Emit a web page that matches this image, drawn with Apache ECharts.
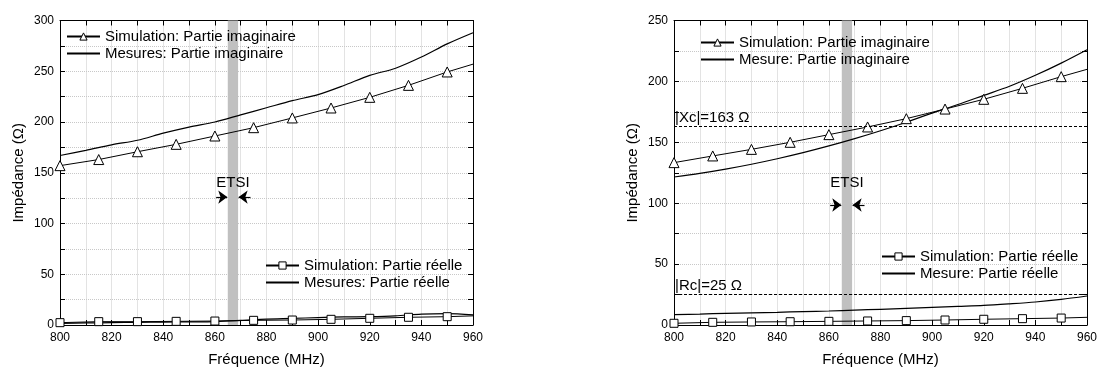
<!DOCTYPE html>
<html><head><meta charset="utf-8">
<script src="https://cdn.jsdelivr.net/npm/echarts@6/dist/echarts.min.js"></script>
<style>html,body{margin:0;padding:0;background:#fff}#c{width:1098px;height:367px}</style>
</head><body><div id="c"></div>
<script>
// Frequencies (MHz)
const freqMes = [800,810,820,830,840,850,860,870,880,890,900,910,920,930,940,950,960];
const freqSim = [800,815,830,845,860,875,890,905,920,935,950,960];
const xTicks = [800,820,840,860,880,900,920,940,960];
// Left chart
const leftSimImag = [157,163,170.7,178,186.2,194.4,204,213.8,224.3,236.1,249.3,257];
const leftMesImag = [167,172,177.5,182,189,195,200,207,214,221,227,236,246,253,264,277,288];
const leftSimReal = [2.3,3.3,3.3,3.6,3.9,4.6,4.9,5.6,6.6,7.6,8.2,9];
const leftMesReal = [1.6,2,2.3,2.6,2.9,3.1,3.4,4.5,5.8,6.5,7.3,8,8.2,9,10.8,11.3,10];
// Right chart
const rightSimImag = [133.3,138.8,144.2,150,156.3,162.6,169.4,177.3,185.3,194.3,203.9,209.9];
const rightMesImag = [121.5,124.5,128,132,136.5,141.5,147,153,159.5,166.5,174,181,188.5,196,205,215,226];
const rightSimReal = [1.4,2.2,2.5,2.7,3,3.3,3.6,4.1,4.7,5.2,5.7,6.3];
const rightMesReal = [8.5,9,9.6,10,10.4,11,11.5,12.2,12.9,13.7,14.5,15.3,16.1,17.4,18.9,21,23.8];
// ETSI band and reference values
const etsiBand = [865, 869];
const xcRef = 163, rcRef = 25;

const FONT = 'Liberation Sans, Arial, sans-serif';
const simPts = (vals) => freqSim.map((f,i) => ({value:[f, vals[i]], symbol: ((f-800)%15===0) ? undefined : 'none'}));
const mesPts = (vals) => freqMes.map((f,i) => [f, vals[i]]);

function simSeries(name, vals, sym, size, xi, yi){
  return {type:'line', name, xAxisIndex:xi, yAxisIndex:yi, data: simPts(vals),
    symbol: sym, symbolSize: size, showAllSymbol:true,
    lineStyle:{color:'#000', width:1}, itemStyle:{color:'#fff', borderColor:'#000', borderWidth:1},
    z:3, animation:false};
}
function mesSeries(name, vals, xi, yi){
  return {type:'line', name, xAxisIndex:xi, yAxisIndex:yi, data: mesPts(vals), smooth:0.3,
    symbol:'none', lineStyle:{color:'#000', width:1.2}, itemStyle:{color:'#000'}, z:2, animation:false};
}
function etsiSeries(xi, yi, textY, arrowY){
  return {type:'line', xAxisIndex:xi, yAxisIndex:yi, data:[], silent:true, animation:false,
    markArea:{silent:true, itemStyle:{color:'#c0c0c0'}, data:[[{xAxis:etsiBand[0]},{xAxis:etsiBand[1]}]]},
    markPoint:{silent:true, symbol:'rect', symbolSize:1, itemStyle:{color:'rgba(0,0,0,0)'},
      label:{show:true, formatter:'ETSI', color:'#000', fontFamily:FONT, fontSize:15, position:'inside'},
      data:[{coord:[(etsiBand[0]+etsiBand[1])/2, textY]}]},
    markLine:{silent:true, symbol:['none','arrow'], symbolSize:[10,9],
      lineStyle:{color:'#000', type:'solid', width:1.2}, label:{show:false},
      data:[[{coord:[etsiBand[0]-4.5, arrowY]},{coord:[etsiBand[0]-0.2, arrowY]}],
            [{coord:[etsiBand[1]+4.8, arrowY]},{coord:[etsiBand[1]+0.2, arrowY]}]]},
    z:1};
}
function refSeries(xi, yi, val, text){
  return {type:'line', xAxisIndex:xi, yAxisIndex:yi, data:[], silent:true, animation:false,
    markLine:{silent:true, symbol:'none', lineStyle:{color:'#000', type:[3,2], width:1},
      label:{show:true, position:'insideStartTop', formatter:text, color:'#000', fontFamily:FONT, fontSize:15, distance:[1,1]},
      data:[{yAxis:val}]}};
}

function xAxes(gi){
  return [
    {type:'value', gridIndex:gi, min:800, max:960, interval:10, position:'bottom',
     name:'Fréquence (MHz)', nameLocation:'middle', nameGap:27, nameTextStyle:{fontFamily:FONT, fontSize:15, color:'#000'},
     axisLine:{show:true, onZero:false, lineStyle:{color:'#000'}},
     axisTick:{show:true, inside:true, length:5, lineStyle:{color:'#000'}},
     axisLabel:{fontFamily:FONT, fontSize:12, color:'#000', margin:7, formatter:v=> xTicks.includes(v)? String(v):''},
     splitLine:{show:true, lineStyle:{color:'#c8c8c8', type:[1,1]}}},
    {type:'value', gridIndex:gi, min:800, max:960, interval:10, position:'top',
     axisLine:{show:true, onZero:false, lineStyle:{color:'#000'}},
     axisTick:{show:true, inside:true, length:5, lineStyle:{color:'#000'}},
     axisLabel:{show:false}, splitLine:{show:false}}
  ];
}
function yAxes(gi, max){
  return [
    {type:'value', gridIndex:gi, min:0, max:max, interval:25, position:'left',
     name:'Impédance (Ω)', nameLocation:'middle', nameGap:34, nameTextStyle:{fontFamily:FONT, fontSize:15, color:'#000'},
     axisLine:{show:true, onZero:false, lineStyle:{color:'#000'}},
     axisTick:{show:true, inside:true, length:5, lineStyle:{color:'#000'}},
     axisLabel:{fontFamily:FONT, fontSize:12, color:'#000', margin:6, formatter:v=> v%50===0? String(v):''},
     splitLine:{show:true, lineStyle:{color:'#c8c8c8', type:[1,1]}}},
    {type:'value', gridIndex:gi, min:0, max:max, interval:25, position:'right',
     axisLine:{show:true, onZero:false, lineStyle:{color:'#000'}},
     axisTick:{show:true, inside:true, length:5, lineStyle:{color:'#000'}},
     axisLabel:{show:false}, splitLine:{show:false}}
  ];
}
const simLegendStyle = {color:'#fff', borderColor:'#000', borderWidth:1};
function legend(simName, mesName, left, top){
  return {data:[{name:simName, itemStyle:simLegendStyle}, {name:mesName, itemStyle:{opacity:0}}],
    left, top, orient:'vertical', itemGap:2, itemWidth:33, itemHeight:9,
    textStyle:{fontFamily:FONT, fontSize:15, color:'#000'}, padding:0, selectedMode:false};
}

const N = {
  lsi:'Simulation: Partie imaginaire', lmi:'Mesures: Partie imaginaire',
  lsr:'Simulation: Partie réelle', lmr:'Mesures: Partie réelle',
  rsi:'Simulation: Partie imaginaire ', rmi:'Mesure: Partie imaginaire',
  rsr:'Simulation: Partie réelle ', rmr:'Mesure: Partie réelle'
};

const chart = echarts.init(document.getElementById('c'), null, {renderer:'canvas'});
chart.setOption({
  animation:false,
  grid:[{left:60, top:20.5, width:413, height:304.5, containLabel:false, outerBoundsMode:'none'},
        {left:674, top:20.5, width:413, height:304.5, containLabel:false, outerBoundsMode:'none'}],
  xAxis:[...xAxes(0), ...xAxes(1)],
  yAxis:[...yAxes(0,300), ...yAxes(1,250)],
  legend:[
    legend(N.lsi, N.lmi, 66, 29),
    legend(N.lsr, N.lmr, 265, 258),
    legend(N.rsi, N.rmi, 700, 35),
    legend(N.rsr, N.rmr, 881, 249)
  ],
  series:[
    etsiSeries(0,0,140,126),
    simSeries(N.lsi, leftSimImag, 'triangle', 10, 0, 0),
    mesSeries(N.lmi, leftMesImag, 0, 0),
    simSeries(N.lsr, leftSimReal, 'rect', 8, 0, 0),
    mesSeries(N.lmr, leftMesReal, 0, 0),
    etsiSeries(2,2,116.6,98.5),
    refSeries(2,2,xcRef,'|Xc|=163 Ω'),
    refSeries(2,2,rcRef,'|Rc|=25 Ω'),
    simSeries(N.rsi, rightSimImag, 'triangle', 10, 2, 2),
    mesSeries(N.rmi, rightMesImag, 2, 2),
    simSeries(N.rsr, rightSimReal, 'rect', 8, 2, 2),
    mesSeries(N.rmr, rightMesReal, 2, 2)
  ]
});
</script></body></html>
